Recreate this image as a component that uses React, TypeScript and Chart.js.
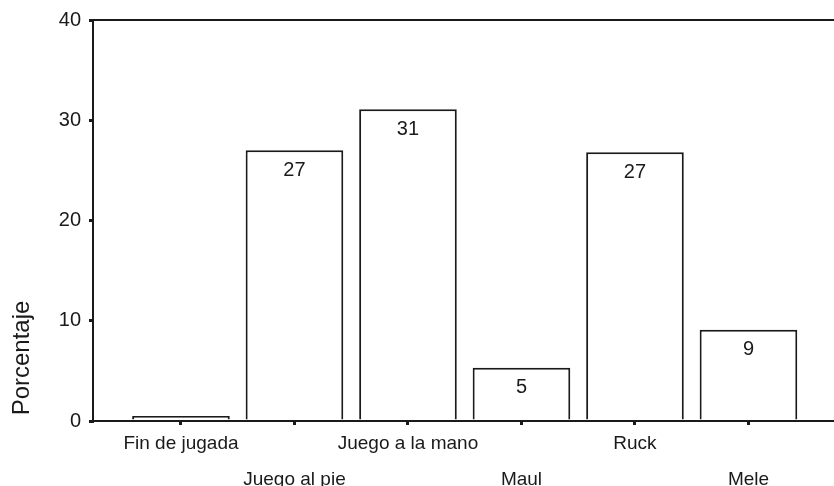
import React, { useEffect, useRef } from "react";
import { Chart, registerables } from "chart.js";

Chart.register(...registerables);

const categories = ["Fin de jugada", "Juego al pie", "Juego a la mano", "Maul", "Ruck", "Mele"];
const values = [0.5, 27.0, 31.1, 5.3, 26.8, 9.1];
const valueLabels = ["", "27", "31", "5", "27", "9"];
const yTicks = [0, 10, 20, 30, 40];
const yTitle = "Porcentaje";

const FONT = '"Liberation Sans", Arial, sans-serif';
const INK = "#1a1a1a";

export default function App() {
  const ref = useRef<HTMLCanvasElement | null>(null);

  useEffect(() => {
    if (!ref.current) return;
    const framePlugin = {
      id: "frame",
      afterDraw(chart: any) {
        const { ctx, chartArea } = chart;
        ctx.save();
        ctx.strokeStyle = INK;
        ctx.lineWidth = 2;
        ctx.beginPath();
        ctx.moveTo(chartArea.left - 1, chartArea.top);
        ctx.lineTo(chartArea.right, chartArea.top);
        ctx.moveTo(chartArea.right - 1, chartArea.top);
        ctx.lineTo(chartArea.right - 1, chartArea.bottom);
        ctx.stroke();
        ctx.fillStyle = INK;
        ctx.font = `24px ${FONT}`;
        ctx.textAlign = "center";
        ctx.textBaseline = "middle";
        ctx.translate(22, 358);
        ctx.rotate(-Math.PI / 2);
        ctx.fillText(yTitle, 0, 0);
        ctx.restore();
      },
    };
    const labelPlugin = {
      id: "valueLabels",
      afterDatasetsDraw(chart: any) {
        const { ctx } = chart;
        const meta = chart.getDatasetMeta(0);
        ctx.save();
        ctx.fillStyle = INK;
        ctx.font = `20px ${FONT}`;
        ctx.textAlign = "center";
        ctx.textBaseline = "middle";
        meta.data.forEach((bar: any, i: number) => {
          if (!valueLabels[i]) return;
          ctx.fillText(valueLabels[i], bar.x, bar.y + 20);
        });
        ctx.restore();
      },
    };

    const chart = new Chart(ref.current, {
      type: "bar",
      data: {
        datasets: [
          {
            data: values.map((v, i) => ({ x: i, y: v })),
            backgroundColor: "#ffffff",
            borderColor: INK,
            borderWidth: 2,
            barPercentage: 0.86,
            categoryPercentage: 1,
          } as any,
        ],
      },
      options: {
        animation: false,
        responsive: true,
        maintainAspectRatio: false,
        layout: { padding: { top: 18, left: 0, right: 0, bottom: 0 } },
        plugins: { legend: { display: false }, tooltip: { enabled: false } },
        scales: {
          x: {
            type: "linear",
            offset: false,
            min: -0.775,
            max: 5.78,
            afterBuildTicks: (s: any) => {
              s.ticks = categories.map((_, i) => ({ value: i }));
            },
            afterFit: (s: any) => {
              s.height = 65;
            },
            ticks: {
              autoSkip: false,
              maxRotation: 0,
              padding: 1,
              color: INK,
              font: { family: FONT, size: 19, lineHeight: 1.9 },
              callback: (v: any) => {
                const i = Math.round(Number(v));
                return i % 2 ? ["", categories[i]] : categories[i];
              },
            },
            grid: { offset: false, drawOnChartArea: false, drawTicks: true, tickLength: 4, color: INK, lineWidth: 3 },
            border: { color: INK, width: 2 },
          },
          y: {
            min: 0,
            max: 40,
            afterBuildTicks: (s: any) => {
              s.ticks = yTicks.map((v) => ({ value: v }));
            },
            afterFit: (s: any) => {
              s.width = 93;
            },
            ticks: {
              padding: 8,
              color: INK,
              font: { family: FONT, size: 20 },
            },
            grid: { drawOnChartArea: false, drawTicks: true, tickLength: 4, color: INK, lineWidth: 3 },
            border: { color: INK, width: 2 },
          },
        },
      } as any,
      plugins: [framePlugin, labelPlugin],
    });
    return () => chart.destroy();
  }, []);

  return (
    <div style={{ position: "fixed", left: 0, top: 0, width: 837, height: 486, background: "#fff" }}>
      <canvas ref={ref} />
    </div>
  );
}
